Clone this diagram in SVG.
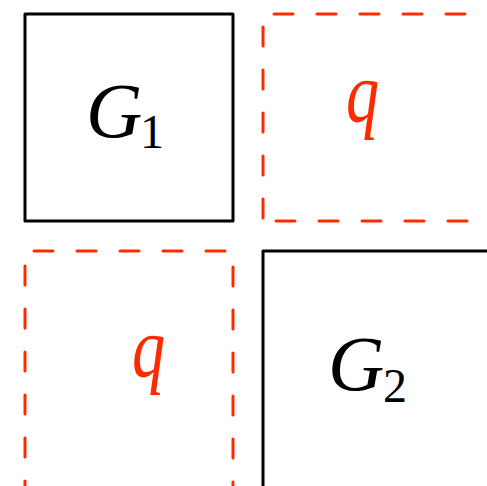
<svg xmlns="http://www.w3.org/2000/svg" width="487" height="486" viewBox="0 0 487 486">
<style>
.solid{fill:none;stroke:#000;stroke-width:3;stroke-linejoin:round}
.dash{fill:none;stroke:#ff2a00;stroke-width:3;stroke-dasharray:19 24;stroke-linecap:round}
.lbl{font-family:"Liberation Serif",serif;font-style:italic;font-size:78px}
.sub{font-family:"Liberation Serif",serif;font-size:48px}
.red{fill:#ff2a00}
</style>
<rect width="487" height="486" fill="#fff"/>
<g id="G1">
<rect class="solid" x="25" y="14" width="208" height="207"/>
<text class="lbl" x="86" y="137">G</text>
<text class="sub" x="140" y="148">1</text>
</g>
<g id="q1">
<path class="dash" d="M263 218 V14 H500"/>
<path class="dash" d="M276 221 H500"/>
<text class="lbl red" transform="translate(346 121) scale(0.85 1.1)">q</text>
</g>
<g id="q2">
<path class="dash" d="M25 500 V251 H233 V500"/>
<text class="lbl red" transform="translate(132 376) scale(0.85 1.1)">q</text>
</g>
<g id="G2">
<path class="solid" d="M263 500 V251 H500"/>
<text class="lbl" x="328" y="390">G</text>
<text class="sub" x="383" y="402">2</text>
</g>
<g id="connectors"/>
</svg>
